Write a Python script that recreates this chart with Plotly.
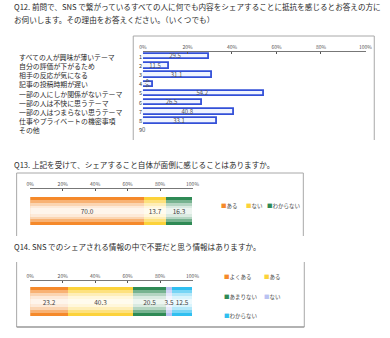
import plotly.graph_objects as go

W, H = 390, 338

# ---------------- data ----------------
q12_title = ["Q12. 前問で、SNS で繋がっているすべての人に何でも内容をシェアすることに抵抗を感じるとお答えの方に",
             "お伺いします。その理由をお答えください。（いくつでも）"]
q12_categories = ["すべての人が興味が薄いテーマ", "自分の評価が下がるため", "相手の反応が気になる",
                  "記事の投稿時期が遅い", "一部の人にしか関係がないテーマ", "一部の人は不快に思うテーマ",
                  "一部の人はつまらない思うテーマ", "仕事やプライベートの機密事項", "その他"]
q12_numbers = ["1", "2", "3", "4", "5", "6", "7", "8", "9"]
q12_values = [29.5, 11.5, 31.1, 4.4, 54.2, 26.5, 40.8, 33.1, 0]

q13_title = "Q13. 上記を受けて、シェアすること自体が面倒に感じることはありますか。"
q13_labels = ["ある", "ない", "わからない"]
q13_values = [70.0, 13.7, 16.3]

q14_title = "Q14. SNS でのシェアされる情報の中で不要だと思う情報はありますか。"
q14_labels = ["よくある", "ある", "あまりない", "ない", "わからない"]
q14_values = [23.2, 40.3, 20.5, 3.5, 12.5]

pct_ticks = [0, 20, 40, 60, 80, 100]
pct_tick_labels = ["0%", "20%", "40%", "60%", "80%", "100%"]

# ---------------- style ----------------
FONT = "Noto Sans CJK JP"
TXT = "#2a2a2a"
BLUE = "#3350d8"
ORANGE = "#f5892a"
YELLOW = "#fcd23a"
GREEN = "#2f8a55"
LAVENDER = "#b9c2f2"
CYAN = "#30bff0"
q13_colors = [ORANGE, YELLOW, GREEN]
q14_colors = [ORANGE, YELLOW, GREEN, LAVENDER, CYAN]


def px(x):
    return x / W


def py(y):
    return 1 - y / H


fig = go.Figure()

# ---- Q12 bars ----
fig.add_trace(go.Bar(
    x=q12_values, y=list(range(len(q12_values))), orientation="h",
    width=0.6, marker=dict(color="rgba(240,244,255,1)", line=dict(color=BLUE, width=1.8)),
    text=[f"{v:.1f}" if v else "0" for v in q12_values],
    textposition=["inside" if v else "outside" for v in q12_values],
    insidetextanchor="middle", textfont=dict(size=6, color="#555", family=FONT),
    xaxis="x", yaxis="y", showlegend=False, hoverinfo="skip", cliponaxis=False,
))


def stacked(values, colors, xa, ya):
    starts = []
    s = 0
    for v in values:
        starts.append(s)
        s += v
    ys = [0] * len(values)
    fig.add_trace(go.Bar(x=values, y=ys, base=starts, orientation="h", width=1.0,
                         marker=dict(color=colors, line=dict(width=0)),
                         xaxis=xa, yaxis=ya, showlegend=False, hoverinfo="skip"))
    for w, a in [(0.8, 0.35), (0.6, 0.45), (0.4, 0.5), (0.2, 0.5)]:
        fig.add_trace(go.Bar(x=values, y=ys, base=starts, orientation="h", width=w,
                             marker=dict(color=f"rgba(255,255,255,{a})", line=dict(width=0)),
                             xaxis=xa, yaxis=ya, showlegend=False, hoverinfo="skip"))
    fig.add_trace(go.Bar(x=values, y=ys, base=starts, orientation="h", width=1.0,
                         marker=dict(color="rgba(0,0,0,0)", line=dict(width=0)),
                         text=[f"{v:.1f}" for v in values], textposition="inside",
                         insidetextanchor="middle",
                         textfont=dict(size=6.5, color="#444", family=FONT),
                         xaxis=xa, yaxis=ya, showlegend=False, hoverinfo="skip"))


stacked(q13_values, q13_colors, "x2", "y2")
stacked(q14_values, q14_colors, "x3", "y3")

tickfont = dict(size=5, color="#555", family=FONT)
xcommon = dict(range=[0, 100], side="top", tickvals=pct_ticks, ticktext=pct_tick_labels,
               showline=True, linecolor="#777", linewidth=1, ticks="inside", ticklen=2,
               tickcolor="#555", showgrid=False, zeroline=False, tickfont=tickfont, fixedrange=True)

annotations = []
# titles
annotations.append(dict(x=px(8), y=py(7), text=q12_title[0]))
annotations.append(dict(x=px(8), y=py(20), text=q12_title[1]))
annotations.append(dict(x=px(8), y=py(165), text=q13_title))
annotations.append(dict(x=px(8), y=py(247), text=q14_title))
for a in annotations:
    a.update(xref="paper", yref="paper", xanchor="left", yanchor="middle", showarrow=False,
             font=dict(size=7.6, color=TXT, family=FONT))

# Q12 category labels
for i, c in enumerate(q12_categories):
    annotations.append(dict(x=px(13), y=i, xref="paper", yref="y", text=c, showarrow=False,
                            xanchor="left", yanchor="middle",
                            font=dict(size=6.9, color=TXT, family=FONT)))

# legends
leg_font = dict(size=5.5, color="#444", family=FONT)
q13_leg_pos = [(221, 206), (247, 206), (269, 206)]
for (lx, ly), lab, col in zip(q13_leg_pos, q13_labels, q13_colors):
    annotations.append(dict(x=px(lx), y=py(ly), xref="paper", yref="paper", showarrow=False,
                            xanchor="left", yanchor="middle", font=leg_font,
                            text=f"<span style='color:{col}'>■</span>{lab}"))
q14_leg_pos = [(224, 277), (266, 277), (224, 297), (266, 297), (224, 316)]
for (lx, ly), lab, col in zip(q14_leg_pos, q14_labels, q14_colors):
    annotations.append(dict(x=px(lx), y=py(ly), xref="paper", yref="paper", showarrow=False,
                            xanchor="left", yanchor="middle", font=leg_font,
                            text=f"<span style='color:{col}'>■</span>{lab}"))

BOX = "#a8a8a8"


def line(x0, y0, x1, y1, color=BOX, w=1):
    return dict(type="line", xref="paper", yref="paper", x0=px(x0), y0=py(y0), x1=px(x1), y1=py(y1),
                line=dict(color=color, width=w), layer="below")


shapes = [
    line(133, 36, 381, 36), line(133, 36, 133, 140), line(381, 36, 381, 140),
    line(13, 173, 308, 173), line(13, 173, 13, 236), line(308, 173, 308, 236),
    line(13, 262, 13, 327), line(309, 262, 309, 327), line(13, 327, 309, 327, "#999", 1.5),
]

fig.update_layout(
    width=W, height=H, margin=dict(l=0, r=0, t=0, b=0),
    paper_bgcolor="white", plot_bgcolor="rgba(0,0,0,0)",
    barmode="overlay", bargap=0,
    uniformtext=dict(mode="show", minsize=6),
    font=dict(family=FONT, color=TXT),
    xaxis=dict(domain=[px(143), px(372)], anchor="y", **xcommon),
    yaxis=dict(domain=[py(135), py(52)], anchor="x", range=[8.5, -0.5], tickvals=list(range(9)),
               ticktext=q12_numbers, showline=False, showgrid=False, zeroline=False,
               tickfont=dict(size=5.5, color="#333", family=FONT), ticks="", fixedrange=True),
    xaxis2=dict(domain=[px(27), px(194)], anchor="y2", **xcommon),
    yaxis2=dict(domain=[py(225), py(189)], anchor="x2", range=[-0.5, 0.8], visible=False, fixedrange=True),
    xaxis3=dict(domain=[px(27), px(194)], anchor="y3", **xcommon),
    yaxis3=dict(domain=[py(316), py(281)], anchor="x3", range=[-0.5, 0.7], visible=False, fixedrange=True),
    annotations=annotations, shapes=shapes,
)

fig.write_html("out.html", config={"displayModeBar": False})
